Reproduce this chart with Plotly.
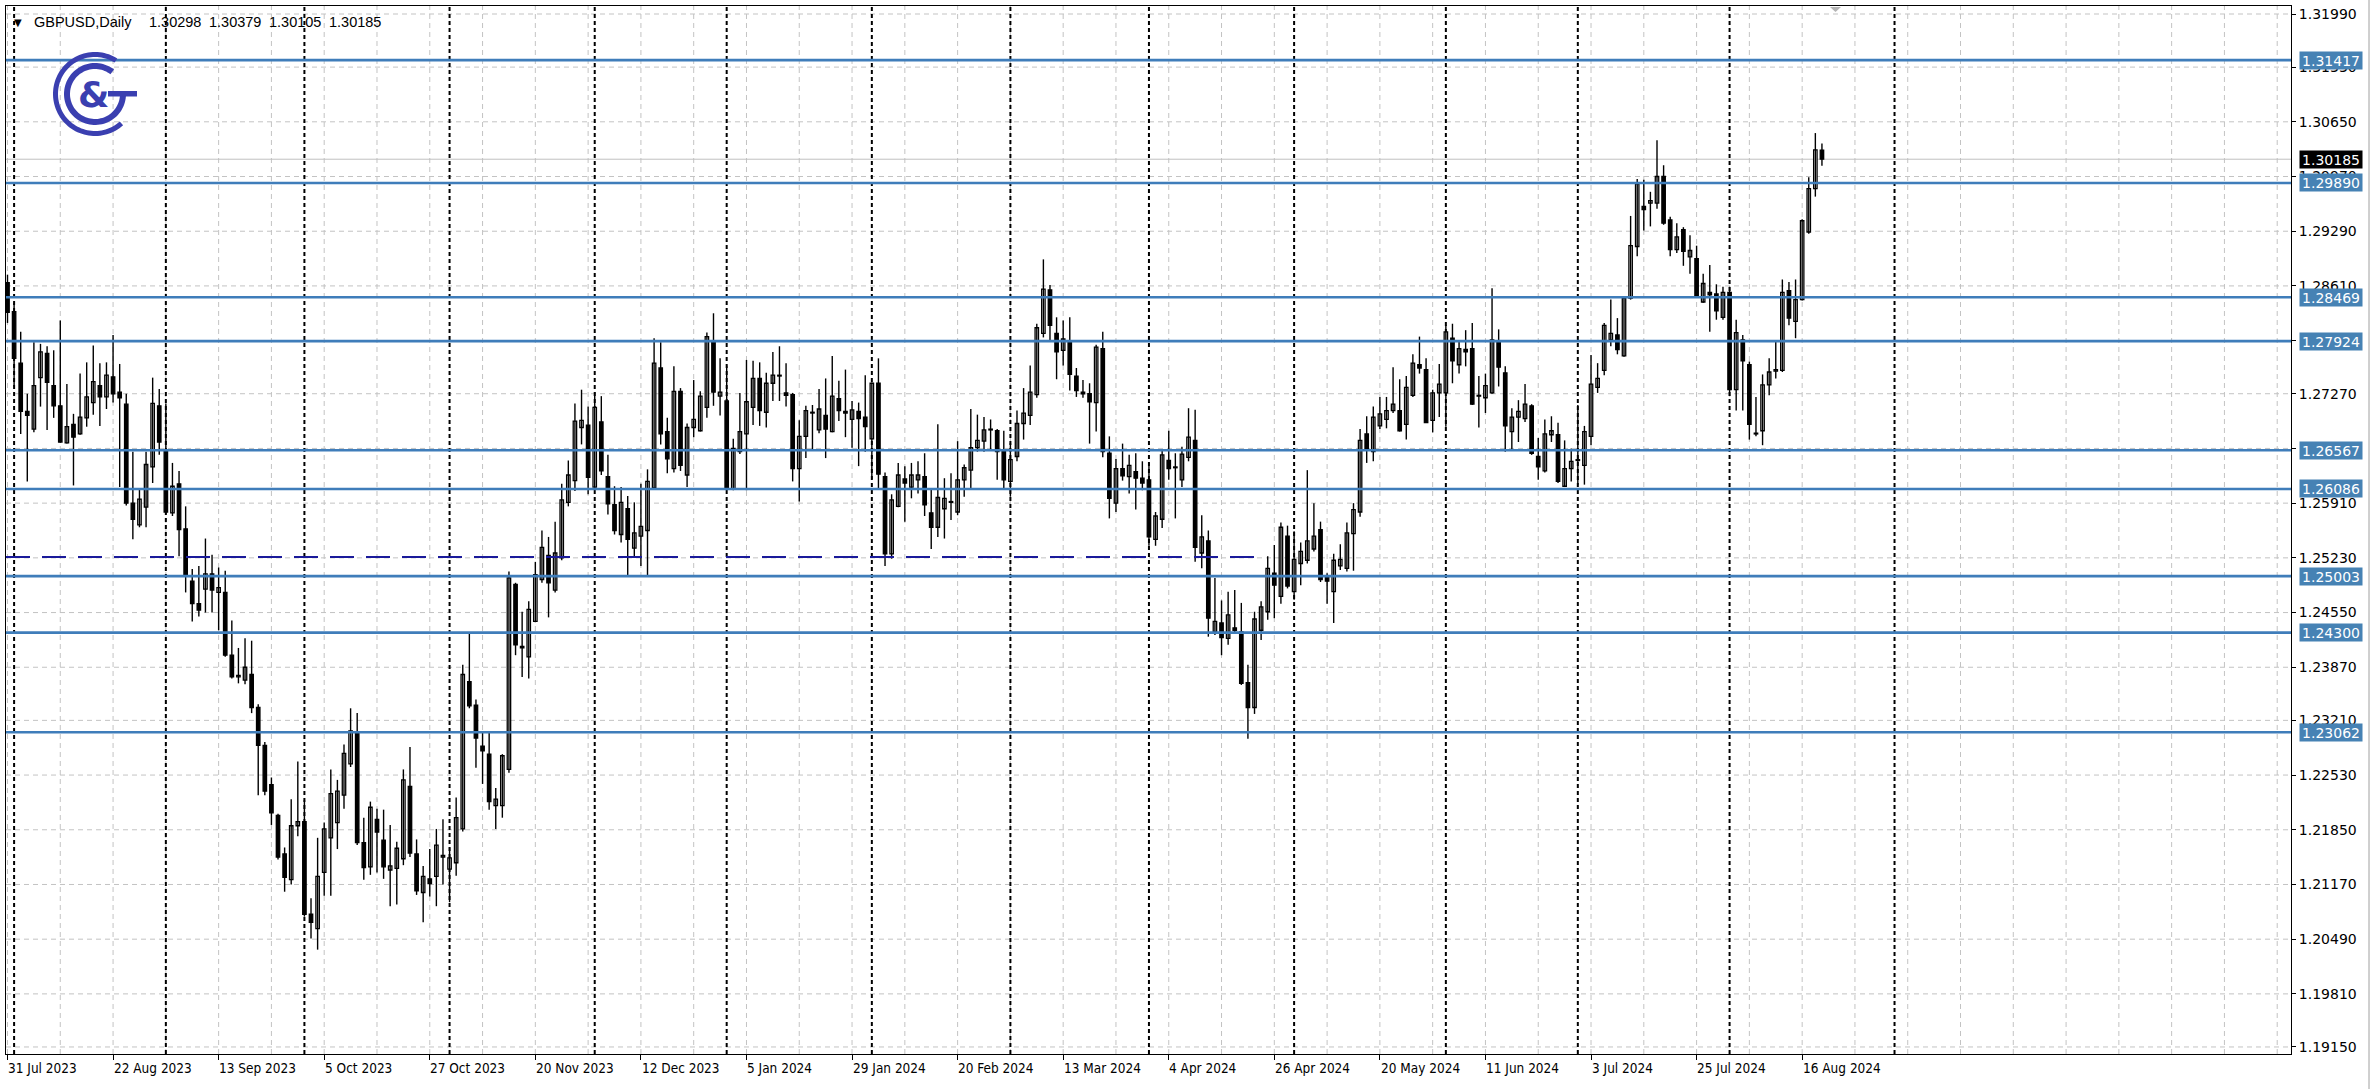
import math
import pandas as pd
import plotly.graph_objects as go

# ---------------- data ----------------
opens = [1.2865,1.2829,1.2765,1.2705,1.2683,1.2747,1.2777,1.2737,1.2712,1.2666,
1.2689,1.2677,1.2697,1.2716,1.2737,1.2723,1.2748,1.2729,1.2714,1.2591,
1.2564,1.2586,1.2636,1.2712,1.2655,1.2579,1.2615,1.2559,1.2494,1.2466,
1.2484,1.2503,1.2480,1.2480,1.2402,1.2375,1.2371,1.2378,1.2337,1.2290,
1.2241,1.2203,1.2155,1.2123,1.2190,1.2195,1.2080,1.2062,1.2132,1.2175,
1.2194,1.2228,1.2267,1.2305,1.2169,1.2139,1.2198,1.2172,1.2135,1.2137,
1.2149,1.2239,1.2155,1.2107,1.2124,1.2127,1.2151,1.2136,1.2144,1.2186,
1.2369,1.2340,1.2289,1.2279,1.2215,1.2215,1.2260,1.2490,1.2413,1.2400,
1.2444,1.2496,1.2526,1.2483,1.2523,1.2592,1.2619,1.2685,1.2688,1.2611,
1.2692,1.2624,1.2589,1.2552,1.2584,1.2535,1.2550,1.2557,1.2610,1.2759,
1.2680,1.2634,1.2730,1.2626,1.2685,1.2681,1.2710,1.2793,1.2724,1.2718,
1.2609,1.2655,1.2677,1.2710,1.2746,1.2704,1.2740,1.2750,1.2728,1.2726,
1.2634,1.2674,1.2704,1.2682,1.2700,1.2680,1.2721,1.2705,1.2695,1.2705,
1.2698,1.2671,1.2740,1.2624,1.2528,1.2587,1.2621,1.2611,1.2620,1.2624,
1.2579,1.2561,1.2584,1.2593,1.2580,1.2620,1.2632,1.2660,1.2668,1.2682,
1.2681,1.2655,1.2618,1.2649,1.2690,1.2700,1.2726,1.2802,1.2856,1.2802,
1.2781,1.2793,1.2749,1.2729,1.2727,1.2716,1.2783,1.2653,1.2591,1.2634,
1.2624,1.2630,1.2622,1.2620,1.2546,1.2571,1.2644,1.2635,1.2620,1.2648,
1.2669,1.2529,1.2544,1.2431,1.2442,1.2423,1.2436,1.2431,1.2368,1.2337,
1.2433,1.2456,1.2504,1.2475,1.2550,1.2481,1.2516,1.2520,1.2534,1.2558,
1.2499,1.2481,1.2513,1.2510,1.2553,1.2580,1.2677,1.2655,1.2687,1.2695,
1.2706,1.2706,1.2689,1.2725,1.2763,1.2757,1.2694,1.2728,1.2728,1.2796,
1.2763,1.2782,1.2783,1.2724,1.2722,1.2728,1.2793,1.2753,1.2680,1.2698,
1.2696,1.2712,1.2649,1.2631,1.2676,1.2676,1.2612,1.2634,1.2644,1.2638,
1.2674,1.2735,1.2756,1.2794,1.2800,1.2774,1.2846,1.2910,1.2960,1.2964,
1.2964,1.2997,1.2943,1.2906,1.2931,1.2897,1.2895,1.2841,1.2853,1.2851,
1.2822,1.2853,1.2732,1.2794,1.2763,1.2678,1.2681,1.2738,1.2755,1.2756,
1.2855,1.2817,1.2844,1.2928,1.2982,1.30298]
highs = [1.2875,1.2840,1.2804,1.2727,1.2791,1.2789,1.2786,1.2781,1.2818,1.2739,
1.2702,1.2752,1.2766,1.2787,1.2765,1.2766,1.2800,1.2764,1.2727,1.2655,
1.2608,1.2655,1.2747,1.2733,1.2715,1.2641,1.2631,1.2587,1.2509,1.2513,
1.2547,1.2527,1.2511,1.2507,1.2445,1.2411,1.2423,1.2420,1.2341,1.2294,
1.2250,1.2205,1.2163,1.2223,1.2270,1.2222,1.2100,1.2175,1.2194,1.2260,
1.2247,1.2291,1.2336,1.2330,1.2200,1.2220,1.2211,1.2210,1.2191,1.2170,
1.2260,1.2288,1.2173,1.2140,1.2161,1.2186,1.2198,1.2163,1.2225,1.2390,
1.2429,1.2347,1.2306,1.2306,1.2237,1.2279,1.2506,1.2492,1.2456,1.2469,
1.2518,1.2557,1.2549,1.2568,1.2615,1.2644,1.2715,1.2732,1.2711,1.2729,
1.2724,1.2651,1.2612,1.2611,1.2600,1.2592,1.2615,1.2633,1.2796,1.2791,
1.2697,1.2761,1.2734,1.2690,1.2744,1.2730,1.2803,1.2827,1.2771,1.2762,
1.2671,1.2728,1.2769,1.2768,1.2766,1.2753,1.2779,1.2786,1.2765,1.2728,
1.2694,1.2712,1.2713,1.2733,1.2746,1.2774,1.2743,1.2757,1.2718,1.2716,
1.2750,1.2741,1.2771,1.2629,1.2602,1.2641,1.2637,1.2641,1.2643,1.2653,
1.2609,1.2689,1.2622,1.2628,1.2668,1.2639,1.2708,1.2701,1.2698,1.2695,
1.2683,1.2681,1.2666,1.2706,1.2734,1.2762,1.2814,1.2894,1.2862,1.2822,
1.2818,1.2822,1.2759,1.2744,1.2740,1.2788,1.2804,1.2674,1.2646,1.2665,
1.2651,1.2653,1.2643,1.2641,1.2580,1.2658,1.2681,1.2653,1.2661,1.2709,
1.2707,1.2576,1.2557,1.2498,1.2470,1.2481,1.2483,1.2467,1.2390,1.2456,
1.2469,1.2525,1.2539,1.2567,1.2563,1.2556,1.2542,1.2632,1.2591,1.2568,
1.2504,1.2528,1.2540,1.2567,1.2591,1.2683,1.2699,1.2711,1.2723,1.2723,
1.2760,1.2745,1.2749,1.2776,1.2798,1.2771,1.2732,1.2764,1.2812,1.2814,
1.2792,1.2806,1.2815,1.2749,1.2752,1.2858,1.2807,1.2761,1.2709,1.2719,
1.2739,1.2714,1.2672,1.2695,1.2699,1.2691,1.2669,1.2659,1.2713,1.2687,
1.2775,1.2765,1.2815,1.2844,1.2821,1.2848,1.2948,1.2994,1.2993,1.2978,
1.3042,1.3011,1.2947,1.2939,1.2934,1.2924,1.2911,1.2876,1.2887,1.2863,
1.2860,1.2860,1.2819,1.2800,1.2767,1.2723,1.2751,1.2771,1.2792,1.2869,
1.2866,1.2869,1.2944,1.2996,1.3051,1.30379]
lows = [1.2815,1.2736,1.2677,1.2618,1.2679,1.2711,1.2682,1.2697,1.2666,1.2665,
1.2613,1.2676,1.2686,1.2701,1.2687,1.2708,1.2716,1.2611,1.2588,1.2546,
1.2561,1.2561,1.2616,1.2651,1.2577,1.2575,1.2525,1.2480,1.2444,1.2450,
1.2455,1.2455,1.2433,1.2400,1.2373,1.2367,1.2366,1.2330,1.2228,1.2228,
1.2191,1.2148,1.2108,1.2117,1.2177,1.2077,1.2050,1.2036,1.2103,1.2103,
1.2161,1.2211,1.2263,1.2166,1.2123,1.2129,1.2132,1.2124,1.2090,1.2092,
1.2141,1.2151,1.2104,1.2070,1.2102,1.2090,1.2117,1.2095,1.2128,1.2183,
1.2336,1.2262,1.2242,1.2210,1.2186,1.2200,1.2256,1.2402,1.2375,1.2373,
1.2443,1.2492,1.2449,1.2480,1.2520,1.2587,1.2606,1.2664,1.2602,1.2610,
1.2626,1.2577,1.2552,1.2542,1.2501,1.2525,1.2513,1.2501,1.2608,1.2664,
1.2628,1.2629,1.2631,1.2611,1.2673,1.2680,1.2697,1.2712,1.2700,1.2608,
1.2607,1.2652,1.2607,1.2688,1.2687,1.2685,1.2718,1.2718,1.2711,1.2618,
1.2593,1.2647,1.2658,1.2678,1.2647,1.2679,1.2693,1.2673,1.2660,1.2637,
1.2655,1.2621,1.2609,1.2513,1.2522,1.2586,1.2568,1.2597,1.2603,1.2575,
1.2534,1.2549,1.2547,1.2570,1.2576,1.2599,1.2609,1.2655,1.2655,1.2658,
1.2620,1.2609,1.2599,1.2643,1.2670,1.2688,1.2722,1.2797,1.2793,1.2745,
1.2762,1.2731,1.2723,1.2722,1.2665,1.2680,1.2648,1.2572,1.2580,1.2619,
1.2603,1.2583,1.2607,1.2538,1.2538,1.2560,1.2620,1.2572,1.2611,1.2643,
1.2518,1.2510,1.2425,1.2427,1.2402,1.2415,1.2430,1.2365,1.2298,1.2329,
1.2421,1.2446,1.2448,1.2466,1.2485,1.2471,1.2489,1.2516,1.2531,1.2493,
1.2466,1.2442,1.2508,1.2506,1.2507,1.2574,1.2641,1.2643,1.2683,1.2684,
1.2703,1.2680,1.2670,1.2723,1.2752,1.2691,1.2679,1.2698,1.2686,1.2740,
1.2752,1.2761,1.2713,1.2685,1.2703,1.2727,1.2736,1.2655,1.2657,1.2667,
1.2692,1.2651,1.2620,1.2629,1.2667,1.2616,1.2611,1.2618,1.2614,1.2614,
1.2663,1.2728,1.2750,1.2786,1.2776,1.2773,1.2844,1.2898,1.2930,1.2935,
1.2957,1.2937,1.2898,1.2902,1.2886,1.2876,1.2847,1.2840,1.2804,1.2819,
1.2819,1.2724,1.2706,1.2706,1.2670,1.2674,1.2663,1.2725,1.2746,1.2754,
1.2812,1.2796,1.2843,1.2926,1.2972,1.30105]
closes = [1.2828,1.2771,1.2705,1.2700,1.2737,1.2779,1.2741,1.2712,1.2667,1.2686,
1.2673,1.2698,1.2723,1.2742,1.2723,1.2750,1.2727,1.2722,1.2591,1.2571,
1.2596,1.2639,1.2715,1.2667,1.2580,1.2612,1.2558,1.2501,1.2466,1.2458,
1.2503,1.2483,1.2486,1.2402,1.2375,1.2377,1.2387,1.2337,1.2290,1.2233,
1.2206,1.2151,1.2126,1.2190,1.2195,1.2080,1.2070,1.2127,1.2186,1.2230,
1.2233,1.2280,1.2308,1.2169,1.2138,1.2213,1.2182,1.2139,1.2140,1.2162,
1.2247,1.2156,1.2109,1.2127,1.2118,1.2166,1.2153,1.2150,1.2200,1.2378,
1.2339,1.2299,1.2283,1.2220,1.2223,1.2277,1.2498,1.2415,1.2411,1.2459,
1.2502,1.2536,1.2492,1.2529,1.2595,1.2626,1.2693,1.2694,1.2623,1.2710,
1.2631,1.2590,1.2557,1.2592,1.2546,1.2554,1.2562,1.2618,1.2765,1.2677,
1.2646,1.2730,1.2638,1.2685,1.2695,1.2724,1.2798,1.2729,1.2729,1.2609,
1.2659,1.2680,1.2717,1.2746,1.2706,1.2740,1.2750,1.2749,1.2725,1.2634,
1.2674,1.2706,1.2703,1.2708,1.2683,1.2724,1.2706,1.2703,1.2707,1.2696,
1.2686,1.2740,1.2627,1.2528,1.2595,1.2626,1.2616,1.2626,1.2626,1.2589,
1.2561,1.2598,1.2597,1.2592,1.2620,1.2635,1.2660,1.2669,1.2682,1.2683,
1.2655,1.2620,1.2645,1.2690,1.2703,1.2729,1.2809,1.2857,1.2812,1.2779,
1.2795,1.2751,1.2731,1.2727,1.2717,1.2785,1.2655,1.2597,1.2634,1.2625,
1.2638,1.2622,1.2616,1.2549,1.2575,1.2651,1.2634,1.2636,1.2652,1.2673,
1.2536,1.2549,1.2448,1.2444,1.2424,1.2452,1.2433,1.2367,1.2337,1.2447,
1.2462,1.2510,1.2489,1.2561,1.2488,1.2521,1.2531,1.2544,1.2550,1.2496,
1.2494,1.2520,1.2521,1.2554,1.2583,1.2669,1.2657,1.2698,1.2702,1.2706,
1.2714,1.2681,1.2735,1.2765,1.2759,1.2691,1.2728,1.2739,1.2804,1.2768,
1.2783,1.2779,1.2714,1.2725,1.2737,1.2794,1.2760,1.2687,1.2698,1.2705,
1.2714,1.2653,1.2636,1.2677,1.2681,1.2618,1.2634,1.2643,1.2645,1.2680,
1.2739,1.2746,1.2812,1.2802,1.2782,1.2846,1.2911,1.2988,1.2956,1.2967,
1.2997,1.2939,1.2906,1.2922,1.2904,1.2905,1.2848,1.2864,1.2850,1.2830,
1.2853,1.2732,1.2803,1.2768,1.2689,1.2677,1.2738,1.2754,1.2757,1.2853,
1.2821,1.2844,1.2942,1.2982,1.3030,1.30185]

x_labels = ["31 Jul 2023", "22 Aug 2023", "13 Sep 2023", "5 Oct 2023", "27 Oct 2023",
            "20 Nov 2023", "12 Dec 2023", "5 Jan 2024", "29 Jan 2024", "20 Feb 2024",
            "13 Mar 2024", "4 Apr 2024", "26 Apr 2024", "20 May 2024", "11 Jun 2024",
            "3 Jul 2024", "25 Jul 2024", "16 Aug 2024"]
label_step = 16
y_ticks = [1.31990, 1.31330, 1.30650, 1.29970, 1.29290, 1.28610, 1.27930, 1.27270,
           1.26590, 1.25910, 1.25230, 1.24550, 1.23870, 1.23210, 1.22530, 1.21850,
           1.21170, 1.20490, 1.19810, 1.19150]
levels = [1.31417, 1.29890, 1.28469, 1.27924, 1.26567, 1.26086, 1.25003, 1.24300, 1.23062]
dashed_level = 1.2524
bid = 1.30185
header_vals = ["1.30298", "1.30379", "1.30105", "1.30185"]

# trading calendar (weekdays without 25 Dec and 1 Jan)
days = pd.bdate_range("2023-07-31", "2024-08-21")
days = [d for d in days if not ((d.month == 12 and d.day == 25) or (d.month == 1 and d.day == 1))]
N = len(opens)
xs = list(range(N))
month_starts = [i for i in range(1, min(N, len(days))) if days[i].month != days[i - 1].month]
# future bars are projected one calendar day apart (1 Sep 2024)
last_day = days[min(N, len(days)) - 1]
month_starts.append(N - 1 + (pd.Timestamp("2024-09-01") - last_day).days)

# ---------------- geometry ----------------
W, H = 2372, 1089
L, R, T, B = 6, 2291, 6, 1054
pw, ph = R - L, B - T
bar_px = 6.598
x0_px = 7.5
xr = [(L - x0_px) / bar_px, (R - x0_px) / bar_px]
ppu = 1 / 1.2430e-4
yr = [1.3199 - (B - 14) / ppu, 1.3199 + (14 - T) / ppu]

def px2paper(px, py):
    return (px - L) / pw, (B - py) / ph

fig = go.Figure()

# wicks
wx, wy = [], []
for i in xs:
    wx += [i, i, None]
    wy += [lows[i], highs[i], None]
fig.add_trace(go.Scatter(x=wx, y=wy, mode="lines", line=dict(color="black", width=1.4),
                         hoverinfo="skip", showlegend=False))

up = [i for i in xs if closes[i] >= opens[i]]
dn = [i for i in xs if closes[i] < opens[i]]
for idxs, fill in ((up, "white"), (dn, "black")):
    fig.add_trace(go.Bar(
        x=idxs,
        base=[min(opens[i], closes[i]) for i in idxs],
        y=[max(abs(closes[i] - opens[i]), 0.00004) for i in idxs],
        width=0.52,
        marker=dict(color=fill, line=dict(color="black", width=1.3)),
        hoverinfo="skip", showlegend=False))

shapes = []
# grid
gcol = "#c3c3c3"
for k in range(0, 44):
    shapes.append(dict(type="line", xref="x", yref="paper", x0=k * 8, x1=k * 8, y0=0, y1=1,
                       line=dict(color=gcol, width=1, dash="5px,4px"), layer="below"))
for v in y_ticks:
    shapes.append(dict(type="line", xref="paper", yref="y", x0=0, x1=1, y0=v, y1=v,
                       line=dict(color=gcol, width=1, dash="5px,4px"), layer="below"))
# month separators
for m in month_starts:
    shapes.append(dict(type="line", xref="x", yref="paper", x0=m, x1=m, y0=0, y1=1,
                       line=dict(color="black", width=2, dash="4px,3px"), layer="below"))
# bid line
shapes.append(dict(type="line", xref="paper", yref="y", x0=0, x1=1, y0=bid, y1=bid,
                   line=dict(color="#c0c0c0", width=1), layer="below"))
# levels
blue = "#3f7dba"
for v in levels:
    shapes.append(dict(type="line", xref="paper", yref="y", x0=0, x1=1, y0=v, y1=v,
                       line=dict(color=blue, width=2.6), layer="above"))
shapes.append(dict(type="line", xref="paper", yref="y", x0=0, x1=(1265 - L) / pw,
                   y0=dashed_level, y1=dashed_level,
                   line=dict(color="#1a1a9a", width=2, dash="24px,12px"), layer="above"))
# window edge at right
shapes.append(dict(type="line", xref="paper", yref="paper", x0=(2369 - L) / pw, x1=(2369 - L) / pw,
                   y0=(B - 0) / ph, y1=(B - 1089) / ph, line=dict(color="#a0a0a0", width=1)))

def poly_path(pts):
    s = ""
    for j, (px, py) in enumerate(pts):
        ax, ay = px2paper(px, py)
        s += ("M" if j == 0 else "L") + f"{ax:.5f},{ay:.5f}"
    return s + "Z"

# chart-shift marker on top border
shapes.append(dict(type="path", xref="paper", yref="paper",
                   path=poly_path([(1830, 7), (1841, 7), (1835.5, 12)]),
                   fillcolor="#b4b4b4", line=dict(width=0), layer="above"))

# logo
logo_col = "#3a3fb0"
def ring(cx, cy, r_out, r_in, a0, a1, n=80):
    pts = []
    for j in range(n + 1):
        a = math.radians(a0 + (a1 - a0) * j / n)
        pts.append((cx + r_out * math.cos(a), cy - r_out * math.sin(a)))
    for j in range(n, -1, -1):
        a = math.radians(a0 + (a1 - a0) * j / n)
        pts.append((cx + r_in * math.cos(a), cy - r_in * math.sin(a)))
    return pts

cx, cy = 95, 94
for pts in (ring(cx, cy, 42, 37, 58, 312),
            ring(cx, cy, 31, 25, 52, 360),
            [(cx + 13, cy - 3), (cx + 42, cy - 3), (cx + 42, cy + 2.5), (cx + 13, cy + 2.5)]):
    shapes.append(dict(type="path", xref="paper", yref="paper", path=poly_path(pts),
                       fillcolor=logo_col, line=dict(width=0), layer="above"))

annotations = []
lx, ly = px2paper(cx - 2, cy)
annotations.append(dict(xref="paper", yref="paper", x=lx, y=ly, text="<b>&amp;</b>",
                        showarrow=False, font=dict(family="DejaVu Sans", size=36, color=logo_col),
                        xanchor="center", yanchor="middle"))

# x labels
for k, lab in enumerate(x_labels):
    annotations.append(dict(xref="x", yref="paper", x=k * label_step - 0.2, y=0, text=lab,
                            showarrow=False, xanchor="left", yanchor="middle", yshift=-14,
                            font=dict(family="Liberation Sans Narrow, DejaVu Sans Condensed, Liberation Sans",
                                      size=13.5, color="black")))

# price boxes
bx = (2299 - L) / pw
for v in levels:
    annotations.append(dict(xref="paper", yref="y", x=bx, y=v, text=f"{v:.5f}",
                            showarrow=False, xanchor="left", yanchor="middle",
                            bgcolor="#4682b4", width=62, height=17, borderpad=0,
                            font=dict(family="DejaVu Sans", size=14, color="white")))
annotations.append(dict(xref="paper", yref="y", x=bx, y=bid, text=f"{bid:.5f}",
                        showarrow=False, xanchor="left", yanchor="middle",
                        bgcolor="black", width=62, height=17, borderpad=0,
                        font=dict(family="DejaVu Sans", size=14, color="white")))

# header
hx, hy = px2paper(12, 22)
annotations.append(dict(xref="paper", yref="paper", x=hx, y=hy, text="▼", showarrow=False,
                        xanchor="left", yanchor="middle",
                        font=dict(family="DejaVu Sans", size=10, color="black")))
hx, hy = px2paper(32, 22)
annotations.append(dict(xref="paper", yref="paper", x=hx, y=hy, text="GBPUSD,Daily", showarrow=False,
                        xanchor="left", yanchor="middle",
                        font=dict(family="Liberation Sans", size=14.5, color="black")))
for k, hv in enumerate(header_vals):
    hx, hy = px2paper(147 + 60 * k, 22)
    annotations.append(dict(xref="paper", yref="paper", x=hx, y=hy, text=hv, showarrow=False,
                            xanchor="left", yanchor="middle",
                            font=dict(family="Liberation Sans", size=14.5, color="black")))

fig.update_layout(
    template="none",
    width=W, height=H,
    margin=dict(l=L, r=W - R, t=T, b=H - B, pad=0),
    paper_bgcolor="white", plot_bgcolor="white",
    barmode="overlay", showlegend=False,
    shapes=shapes, annotations=annotations,
    xaxis=dict(range=xr, showgrid=False, zeroline=False, automargin=False,
               tickvals=[k * label_step for k in range(len(x_labels))],
               ticktext=["" for _ in x_labels], ticks="outside", ticklen=5, tickcolor="black",
               showline=True, mirror=True, linecolor="black", linewidth=1),
    yaxis=dict(range=yr, side="right", showgrid=False, zeroline=False, automargin=False,
               tickvals=y_ticks, ticktext=[f"{v:.5f}" for v in y_ticks],
               ticks="outside", ticklen=4, tickcolor="black",
               tickfont=dict(family="DejaVu Sans", size=14, color="black"),
               showline=True, mirror=True, linecolor="black", linewidth=1),
)

fig.write_html("out.html", config={"displayModeBar": False},
               post_script="document.body.style.margin='0';document.body.style.overflow='hidden';")
